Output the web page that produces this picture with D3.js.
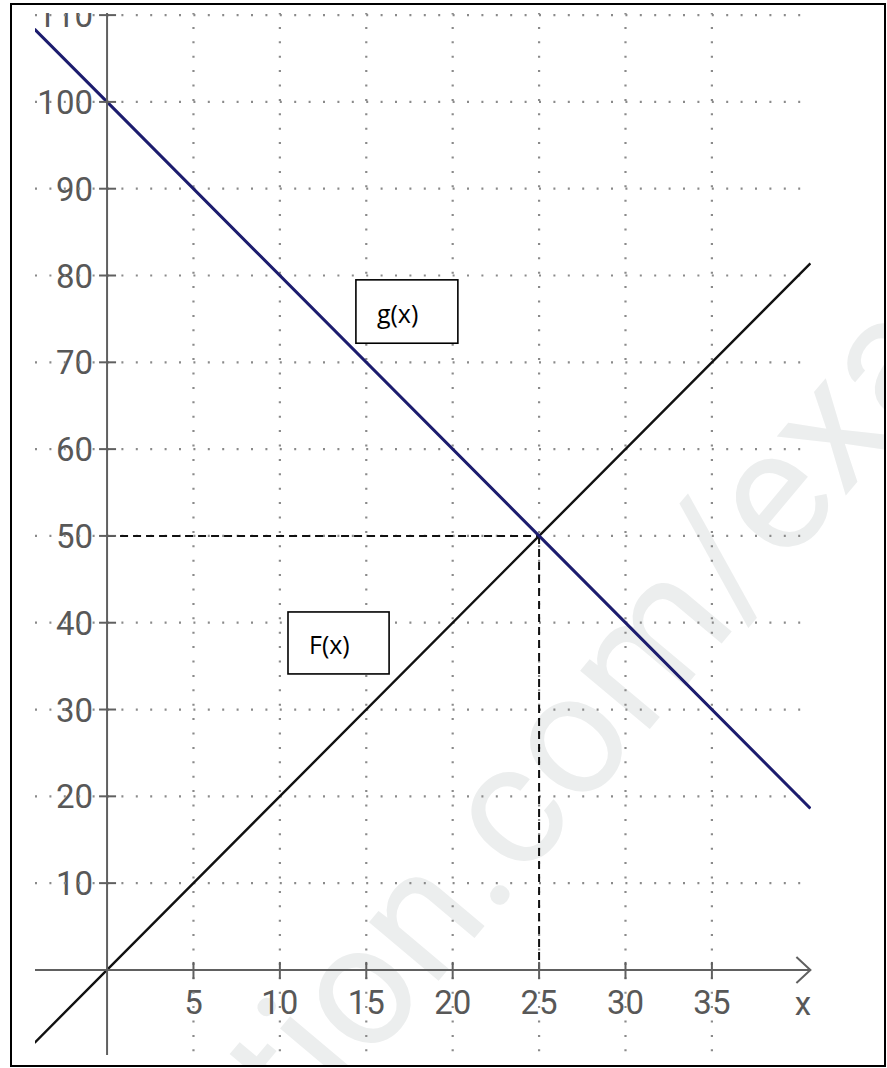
<!DOCTYPE html>
<html><head><meta charset="utf-8">
<script src="https://cdn.jsdelivr.net/npm/d3@7"></script>
<style>body{margin:0;background:#fff}svg{display:block}</style>
</head><body>
<svg id="c" width="887" height="1068"></svg>
<script>
// ---- data ----
const xTicks = [5, 10, 15, 20, 25, 30, 35];
const yTicks = [10, 20, 30, 40, 50, 60, 70, 80, 90, 100, 110];
const fLine = [{x: -4.2, y: -8.4}, {x: 0, y: 0}, {x: 25, y: 50}, {x: 40.7, y: 81.4}];
const gLine = [{x: -4.2, y: 108.4}, {x: 0, y: 100}, {x: 25, y: 50}, {x: 40.7, y: 18.6}];
const intersection = {x: 25, y: 50};
const boxLabels = [
  {text: "g(x)", x0: 14.4, x1: 20.3, y0: 79.5, y1: 72.2},
  {text: "F(x)", x0: 10.47, x1: 16.32, y0: 41.24, y1: 34.1}
];
const axisLabel = "x";
const watermark = "tion.com/exa";

// ---- layout ----
const svg = d3.select("#c");
const x = d3.scaleLinear().domain([-4.17, 40.7]).range([35, 810.4]);
const y = d3.scaleLinear().domain([-9.8, 110.3]).range([1055, 12.5]);

const defs = svg.append("defs");
defs.append("clipPath").attr("id", "frame").append("rect")
  .attr("x", 11).attr("y", 4).attr("width", 874).attr("height", 1062);
defs.append("clipPath").attr("id", "plot").append("rect")
  .attr("x", 35).attr("y", 13).attr("width", 776).attr("height", 1043);
defs.append("clipPath").attr("id", "top").append("rect")
  .attr("x", 0).attr("y", 13).attr("width", 887).attr("height", 1055);

// watermark
svg.append("g").attr("clip-path", "url(#frame)")
  .append("text")
  .attr("transform", "translate(305,1140) rotate(-50)")
  .attr("font-family", "Roboto").attr("font-size", 172)
  .attr("fill", "#eceeee")
  .text(watermark);

const grey = "#606060";

// tick labels (drawn under grid like the original)
const lab = svg.append("g").attr("clip-path", "url(#top)")
  .attr("font-family", "Roboto").attr("font-size", 33).attr("fill", "#585858");
lab.selectAll(".yl").data(yTicks).join("text")
  .attr("x", 93).attr("y", d => y(d) + 12)
  .attr("text-anchor", "end").text(d => d);
lab.selectAll(".xl").data(xTicks).join("text")
  .attr("x", d => x(d)).attr("y", 1014)
  .attr("text-anchor", "middle").text(d => d);
lab.append("text").attr("x", 803).attr("y", 1015)
  .attr("text-anchor", "middle").text(axisLabel);

// grid
const plot = svg.append("g").attr("clip-path", "url(#plot)");
const grid = plot.append("g").attr("stroke", "#8a8a8a").attr("stroke-width", 2.2)
  .attr("stroke-dasharray", "2 12.4").attr("fill", "none");
grid.selectAll(".gv").data(xTicks).join("line")
  .attr("x1", d => x(d)).attr("x2", d => x(d))
  .attr("y1", y(y.domain()[1])).attr("y2", y(y.domain()[0]));
grid.selectAll(".gh").data(yTicks).join("line")
  .attr("y1", d => y(d)).attr("y2", d => y(d))
  .attr("x1", x(x.domain()[0])).attr("x2", x(x.domain()[1]));

// axes
const ax = svg.append("g").attr("stroke", grey).attr("stroke-width", 2).attr("fill", "none");
ax.append("line").attr("x1", x(0)).attr("x2", x(0)).attr("y1", 13).attr("y2", y(y.domain()[0]));
ax.append("line").attr("x1", x(x.domain()[0])).attr("x2", x(x.domain()[1])).attr("y1", y(0)).attr("y2", y(0));
ax.append("path").attr("d", d3.line()([[x(x.domain()[1]) - 14, y(0) - 13], [x(x.domain()[1]), y(0)], [x(x.domain()[1]) - 14, y(0) + 13]]));
ax.selectAll(".tx").data(xTicks).join("line")
  .attr("x1", d => x(d)).attr("x2", d => x(d)).attr("y1", y(0) - 8).attr("y2", y(0) + 9);
ax.append("g").attr("clip-path", "url(#top)").selectAll(".ty").data(yTicks).join("line")
  .attr("x1", x(0) - 8).attr("x2", x(0) + 9).attr("y1", d => y(d)).attr("y2", d => y(d));

// dashed guides
const dash = plot.append("g").attr("stroke", "#111").attr("stroke-width", 2).attr("stroke-dasharray", "8 5");
dash.append("line").attr("x1", x(0)).attr("x2", x(intersection.x))
  .attr("y1", y(intersection.y)).attr("y2", y(intersection.y));
dash.append("line").attr("x1", x(intersection.x)).attr("x2", x(intersection.x))
  .attr("y1", y(intersection.y)).attr("y2", y(0));

// function lines
const line = d3.line().x(d => x(d.x)).y(d => y(d.y));
plot.append("path").datum(fLine).attr("d", line)
  .attr("fill", "none").attr("stroke", "#111").attr("stroke-width", 2.4);
plot.append("path").datum(gLine).attr("d", line)
  .attr("fill", "none").attr("stroke", "#1c1c6e").attr("stroke-width", 3);

// label boxes
const bx = svg.append("g");
boxLabels.forEach(b => {
  bx.append("rect").attr("x", x(b.x0)).attr("y", y(b.y0))
    .attr("width", x(b.x1) - x(b.x0)).attr("height", y(b.y1) - y(b.y0))
    .attr("fill", "#fff").attr("stroke", "#000").attr("stroke-width", 1.6);
  bx.append("text").attr("x", x(b.x0) + 21).attr("y", y(b.y1) - 20)
    .attr("font-family", "Open Sans").attr("font-size", 25).attr("fill", "#000")
    .text(b.text);
});

// frame
svg.append("rect").attr("x", 11).attr("y", 4).attr("width", 874).attr("height", 1062)
  .attr("fill", "none").attr("stroke", "#000").attr("stroke-width", 2);
</script>
</body></html>
